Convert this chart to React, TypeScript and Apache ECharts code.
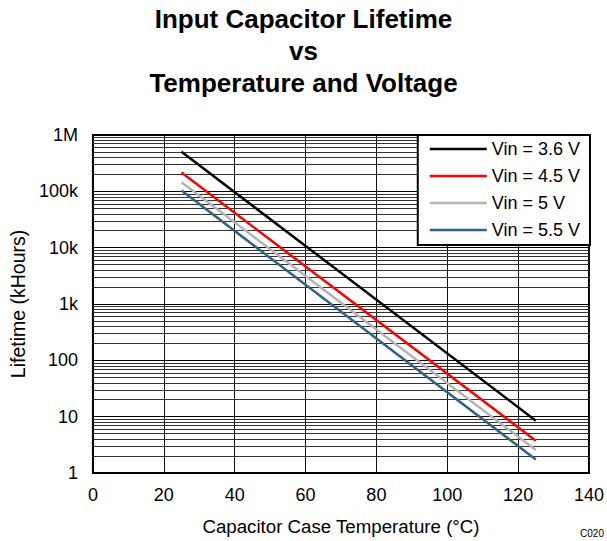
import React, { useEffect, useRef } from "react";
import * as echarts from "echarts";

const seriesNames = ["Vin = 3.6 V", "Vin = 4.5 V", "Vin = 5 V", "Vin = 5.5 V"];
const seriesColors = ["#000000", "#FF0000", "#B3B3B3", "#32637F"];
const vin36: [number, number][] = [[25, 502000], [125, 8.5]];
const vin45: [number, number][] = [[25, 215000], [125, 3.75]];
const vin5: [number, number][] = [[25, 145000], [125, 2.56]];
const vin55: [number, number][] = [[25, 103000], [125, 1.74]];
const seriesData = [vin36, vin45, vin5, vin55];
const yTickLabels: Record<string, string> = {
  "1": "1", "10": "10", "100": "100", "1000": "1k", "10000": "10k", "100000": "100k", "1000000": "1M",
};
const minorMultipliers = [2, 3, 4, 5, 6, 7, 8, 9];
const decades = [1, 10, 100, 1000, 10000, 100000];

const FONT = "'Liberation Sans', Arial, sans-serif";

export default function App() {
  const ref = useRef<HTMLDivElement>(null);
  useEffect(() => {
    if (!ref.current) return;
    const chart = echarts.init(ref.current, undefined, { renderer: "svg" });
    const minorLines: any[] = [];
    decades.forEach((d) => minorMultipliers.forEach((m) => minorLines.push({ yAxis: d * m })));
    const series: any[] = seriesData.map((data, i) => ({
      name: seriesNames[i],
      type: "line",
      data,
      symbol: "none",
      z: 3,
      lineStyle: { color: seriesColors[i], width: 2.5 },
      itemStyle: { color: seriesColors[i] },
    }));
    series.push({
      type: "line",
      data: [],
      silent: true,
      z: 1,
      markLine: {
        silent: true,
        z: 1,
        symbol: "none",
        label: { show: false },
        lineStyle: { color: "#333", width: 1, type: "solid" },
        data: minorLines,
        animation: false,
      },
    });
    chart.setOption({
      animation: false,
      backgroundColor: "#fff",
      title: {
        text: "Input Capacitor Lifetime\nvs\nTemperature and Voltage",
        left: "center",
        top: 3,
        padding: 0,
        textStyle: { fontFamily: FONT, fontSize: 26, fontWeight: "bold", lineHeight: 32, color: "#000" },
      },
      legend: {
        data: seriesNames.map((n) => ({ name: n, icon: "rect" })),
        orient: "vertical",
        right: 17,
        top: 135,
        z: 10,
        padding: [4, 10, 5, 12],
        itemGap: 7,
        itemWidth: 57,
        itemHeight: 2.5,
        backgroundColor: "#fff",
        borderColor: "#000",
        borderWidth: 2,
        borderRadius: 0,
        textStyle: { fontFamily: FONT, fontSize: 18, lineHeight: 20, color: "#000" },
      },
      grid: {
        left: 91, right: 16, top: 135, bottom: 64,
        show: true, borderColor: "#000", borderWidth: 2,
      },
      xAxis: {
        type: "value",
        min: 0, max: 140, interval: 20,
        name: "Capacitor Case Temperature (°C)",
        nameLocation: "middle",
        nameGap: 44,
        nameTextStyle: { fontFamily: FONT, fontSize: 18.7, color: "#000" },
        axisLine: { show: true, lineStyle: { color: "#000", width: 2 } },
        axisTick: { show: false },
        axisLabel: { fontFamily: FONT, fontSize: 18, color: "#000", margin: 13 },
        splitLine: { show: true, lineStyle: { color: "#111", width: 1 } },
      },
      yAxis: {
        type: "log",
        logBase: 10,
        min: 1, max: 1000000,
        name: "Lifetime (kHours)",
        nameLocation: "middle",
        nameGap: 61,
        nameTextStyle: { fontFamily: FONT, fontSize: 19.5, color: "#000" },
        axisLine: { show: true, lineStyle: { color: "#000", width: 2 } },
        axisTick: { show: false },
        axisLabel: {
          fontFamily: FONT, fontSize: 18, color: "#000", margin: 15,
          formatter: (v: number) => yTickLabels[String(Math.round(v))] ?? String(v),
        },
        splitLine: { show: true, lineStyle: { color: "#000", width: 1 } },
      },
      graphic: [
        {
          type: "text", x: 592, y: 533,
          style: { text: "C020", fontFamily: FONT, fontSize: 10, fill: "#000", align: "center", verticalAlign: "middle" },
        },
      ],
      series,
    });
    return () => chart.dispose();
  }, []);
  return (
    <div
      ref={ref}
      style={{ position: "fixed", left: 0, top: 0, width: 607, height: 541 }}
    />
  );
}
